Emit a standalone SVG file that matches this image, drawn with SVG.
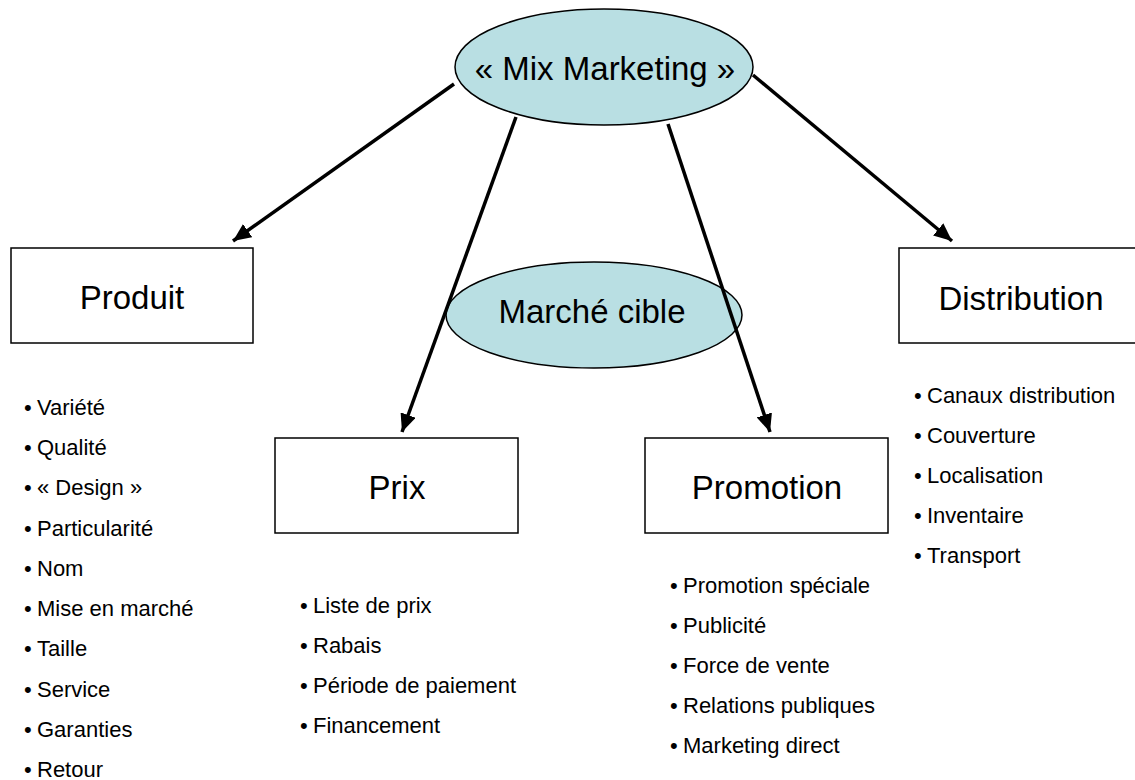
<svg xmlns="http://www.w3.org/2000/svg" width="1135" height="780" viewBox="0 0 1135 780">
<style>
.bg{fill:#ffffff}
.ell{fill:#b9dfe3;stroke:#000;stroke-width:1.5}
.box{fill:#fff;stroke:#000;stroke-width:1.5}
.lbl{font-family:"Liberation Sans",Arial,sans-serif;font-size:33px;fill:#000;text-anchor:middle}
.li{font-family:"Liberation Sans",Arial,sans-serif;font-size:22px;fill:#000}
.conn{stroke:#000;stroke-width:3.5;fill:none;marker-end:url(#arr)}
</style>
<defs>
<marker id="arr" markerUnits="userSpaceOnUse" markerWidth="20" markerHeight="16" viewBox="0 0 20 16" refX="18" refY="8" orient="auto">
<path d="M0,0 L18,8 L0,16 z" fill="#000"/>
</marker>
</defs>
<rect class="bg" x="0" y="0" width="1135" height="780"/>

<g id="marche-cible">
<ellipse class="ell" cx="594" cy="315" rx="148" ry="53"/>
<text class="lbl" x="592" y="323">Marché cible</text>
</g>

<g id="mix-marketing">
<ellipse class="ell" cx="604" cy="67" rx="149" ry="58"/>
<text class="lbl" x="605" y="80">« Mix Marketing »</text>
</g>

<g id="connectors">
<line class="conn" x1="454" y1="84" x2="233" y2="241"/>
<line class="conn" x1="516" y1="117" x2="402" y2="432"/>
<line class="conn" x1="668" y1="124" x2="770" y2="432"/>
<line class="conn" x1="753" y1="75" x2="952" y2="241"/>
</g>

<g id="produit">
<rect class="box" x="11" y="248" width="242" height="95"/>
<text class="lbl" x="132" y="309">Produit</text>
</g>

<g id="prix">
<rect class="box" x="275" y="438" width="243" height="95"/>
<text class="lbl" x="397" y="499">Prix</text>
</g>

<g id="promotion">
<rect class="box" x="645" y="438" width="243" height="95"/>
<text class="lbl" x="767" y="499">Promotion</text>
</g>

<g id="distribution">
<rect class="box" x="899" y="248" width="243" height="95"/>
<text class="lbl" x="1021" y="310">Distribution</text>
</g>

<g id="produit-list">
<text class="li" y="415"><tspan x="24">•</tspan><tspan x="37">Variété</tspan></text>
<text class="li" y="455"><tspan x="24">•</tspan><tspan x="37">Qualité</tspan></text>
<text class="li" y="495"><tspan x="24">•</tspan><tspan x="37">« Design »</tspan></text>
<text class="li" y="536"><tspan x="24">•</tspan><tspan x="37">Particularité</tspan></text>
<text class="li" y="576"><tspan x="24">•</tspan><tspan x="37">Nom</tspan></text>
<text class="li" y="616"><tspan x="24">•</tspan><tspan x="37">Mise en marché</tspan></text>
<text class="li" y="656"><tspan x="24">•</tspan><tspan x="37">Taille</tspan></text>
<text class="li" y="697"><tspan x="24">•</tspan><tspan x="37">Service</tspan></text>
<text class="li" y="737"><tspan x="24">•</tspan><tspan x="37">Garanties</tspan></text>
<text class="li" y="777"><tspan x="24">•</tspan><tspan x="37">Retour</tspan></text>
</g>

<g id="prix-list">
<text class="li" y="613"><tspan x="300">•</tspan><tspan x="313">Liste de prix</tspan></text>
<text class="li" y="653"><tspan x="300">•</tspan><tspan x="313">Rabais</tspan></text>
<text class="li" y="693"><tspan x="300">•</tspan><tspan x="313">Période de paiement</tspan></text>
<text class="li" y="733"><tspan x="300">•</tspan><tspan x="313">Financement</tspan></text>
</g>

<g id="promotion-list">
<text class="li" y="593"><tspan x="670">•</tspan><tspan x="683">Promotion spéciale</tspan></text>
<text class="li" y="633"><tspan x="670">•</tspan><tspan x="683">Publicité</tspan></text>
<text class="li" y="673"><tspan x="670">•</tspan><tspan x="683">Force de vente</tspan></text>
<text class="li" y="713"><tspan x="670">•</tspan><tspan x="683">Relations publiques</tspan></text>
<text class="li" y="753"><tspan x="670">•</tspan><tspan x="683">Marketing direct</tspan></text>
</g>

<g id="distribution-list">
<text class="li" y="403"><tspan x="914">•</tspan><tspan x="927">Canaux distribution</tspan></text>
<text class="li" y="443"><tspan x="914">•</tspan><tspan x="927">Couverture</tspan></text>
<text class="li" y="483"><tspan x="914">•</tspan><tspan x="927">Localisation</tspan></text>
<text class="li" y="523"><tspan x="914">•</tspan><tspan x="927">Inventaire</tspan></text>
<text class="li" y="563"><tspan x="914">•</tspan><tspan x="927">Transport</tspan></text>
</g>
</svg>
